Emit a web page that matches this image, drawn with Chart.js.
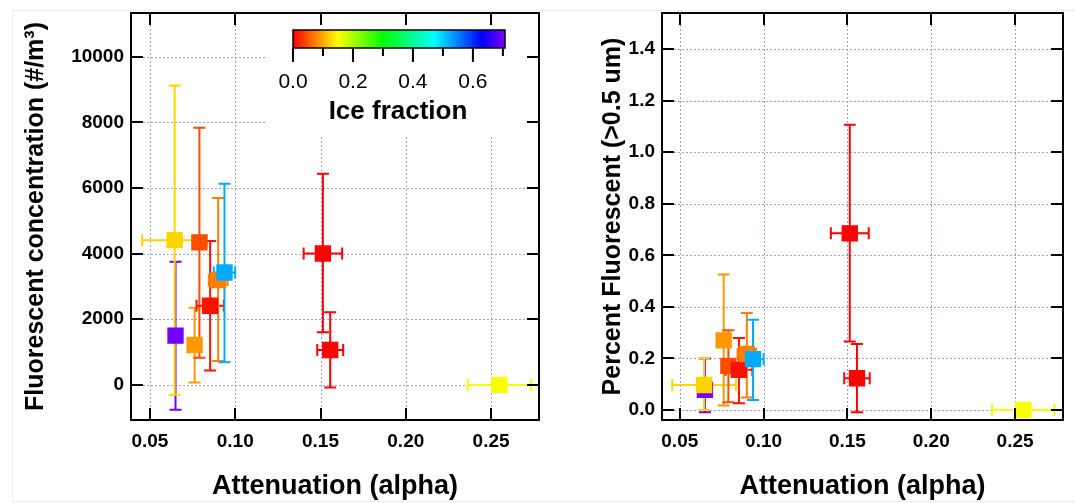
<!DOCTYPE html>
<html>
<head>
<meta charset="utf-8">
<script src="https://cdn.jsdelivr.net/npm/chart.js@4.4.1/dist/chart.umd.min.js"></script>
<style>
  html, body { margin: 0; padding: 0; background: #fff; }
  #wrap { position: relative; width: 1075px; height: 503px; overflow: hidden; }
  #edge { position: absolute; left: 12px; top: 10px; width: 1100px; height: 490px; border: 1px solid #ededed; }
  #left { position: absolute; left: 0; top: 0; }
  #right { position: absolute; left: 560px; top: 0; }
</style>
</head>
<body>
<div id="wrap">
  <div id="edge"></div>
  <canvas id="left" width="560" height="503"></canvas>
  <canvas id="right" width="515" height="503"></canvas>
</div>
<script>
// one entry per sample (drawing order: later ones sit on top)
const attenuation    = [0.0650, 0.0645, 0.0762, 0.0790, 0.0853, 0.0900, 0.0937, 0.1514, 0.1557, 0.2549];
const attenuationErr = [0.0020, 0.0190, 0.0030, 0.0030, 0.0080, 0.0055, 0.0063, 0.0113, 0.0076, 0.0186];
const iceFraction    = [0.700, 0.125, 0.090, 0.045, 0.010, 0.075, 0.523, 0.000, 0.000, 0.155];

const concentration     = [1500, 4410, 1216, 4340, 2410, 3190, 3425, 4003, 1064, 0];
const concentrationLow  = [-760, -304,   70,  830,  435,  730,  690, 1602,  -82, 0];
const concentrationHigh = [3748, 9118, 2350, 7833, 4386, 5693, 6131, 6435, 2210, 0];

const percentFluor     = [0.078, 0.097, 0.270, 0.171, 0.156, 0.217, 0.197, 0.685, 0.123, 0.000];
const percentFluorLow  = [-0.009, 0.000, 0.017, 0.030, 0.026, 0.048, 0.039, 0.266, -0.009, 0.000];
const percentFluorHigh = [0.200, 0.201, 0.525, 0.309, 0.279, 0.376, 0.350, 1.106, 0.256, 0.000];

const xTicks       = [0.05, 0.10, 0.15, 0.20, 0.25];
const concTicks    = [0, 2000, 4000, 6000, 8000, 10000];
const percentTicks = [0, 0.2, 0.4, 0.6, 0.8, 1.0, 1.2, 1.4];
const iceTicks     = [0.0, 0.2, 0.4, 0.6];
const iceMax = 0.707;

// rainbow colour map used for the ice fraction
const cmapStops = [
  [0.00, [255, 0, 0]],
  [0.15, [255, 255, 0]],
  [0.30, [0, 255, 0]],
  [0.47, [0, 255, 255]],
  [0.63, [0, 0, 255]],
  [0.707, [128, 0, 255]]
];
function iceColor(v) {
  for (let i = 1; i < cmapStops.length; i++) {
    const [v1, c1] = cmapStops[i];
    const [v0, c0] = cmapStops[i - 1];
    if (v <= v1) {
      const t = (v - v0) / (v1 - v0);
      const c = c0.map((c, k) => Math.round(c + (c1[k] - c) * t));
      return `rgb(${c[0]},${c[1]},${c[2]})`;
    }
  }
  return 'rgb(128,0,255)';
}
const pointColors = iceFraction.map(iceColor);

Chart.defaults.font.family = '"Liberation Sans", Arial, sans-serif';
Chart.defaults.color = '#000';

// grid, error bars, frame with inside ticks, optional colour bar
function makeOverlay(yLow, yHigh, withColorbar) {
  return {
    id: 'overlay',
    beforeDatasetsDraw(chart) {
      const { ctx, chartArea: a, scales: { x, y } } = chart;
      ctx.save();
      ctx.strokeStyle = '#9c9ce2';
      ctx.lineWidth = 1;
      ctx.setLineDash([2, 2]);
      ctx.beginPath();
      x.ticks.forEach(t => {
        const px = Math.round(x.getPixelForValue(t.value)) + 0.5;
        ctx.moveTo(px, a.top); ctx.lineTo(px, a.bottom);
      });
      y.ticks.forEach(t => {
        const py = Math.round(y.getPixelForValue(t.value)) + 0.5;
        ctx.moveTo(a.left, py); ctx.lineTo(a.right, py);
      });
      ctx.stroke();
      ctx.setLineDash([]);

      if (withColorbar) {
        ctx.fillStyle = '#fff';
        ctx.fillRect(265, a.top, a.right - 265, 122);
      }

      ctx.lineWidth = 2;
      const cap = 6;
      attenuation.forEach((xv, i) => {
        ctx.strokeStyle = pointColors[i];
        const px = x.getPixelForValue(xv);
        const py = y.getPixelForValue(chart.data.datasets[0].data[i].y);
        ctx.beginPath();
        if (yHigh[i] !== yLow[i]) {
          const top = y.getPixelForValue(yHigh[i]);
          const bot = y.getPixelForValue(yLow[i]);
          ctx.moveTo(px, top); ctx.lineTo(px, bot);
          ctx.moveTo(px - cap, top); ctx.lineTo(px + cap, top);
          ctx.moveTo(px - cap, bot); ctx.lineTo(px + cap, bot);
        }
        const l = x.getPixelForValue(xv - attenuationErr[i]);
        const r = x.getPixelForValue(xv + attenuationErr[i]);
        ctx.moveTo(l, py); ctx.lineTo(r, py);
        ctx.moveTo(l, py - cap); ctx.lineTo(l, py + cap);
        ctx.moveTo(r, py - cap); ctx.lineTo(r, py + cap);
        ctx.stroke();
      });
      ctx.restore();
    },
    afterDraw(chart) {
      const { ctx, chartArea: a, scales: { x, y } } = chart;
      ctx.save();
      ctx.strokeStyle = '#000';
      ctx.lineWidth = 2;
      ctx.strokeRect(a.left, a.top, a.right - a.left, a.bottom - a.top);
      const tl = 12;
      ctx.beginPath();
      x.ticks.forEach(t => {
        const px = Math.round(x.getPixelForValue(t.value));
        ctx.moveTo(px, a.bottom); ctx.lineTo(px, a.bottom - tl);
        ctx.moveTo(px, a.top); ctx.lineTo(px, a.top + tl);
      });
      y.ticks.forEach(t => {
        const py = Math.round(y.getPixelForValue(t.value));
        ctx.moveTo(a.left, py); ctx.lineTo(a.left + tl, py);
        ctx.moveTo(a.right, py); ctx.lineTo(a.right - tl, py);
      });
      ctx.stroke();

      if (withColorbar) {
        const bx = 293, by = 30, bw = 212, bh = 18;
        const g = ctx.createLinearGradient(bx, 0, bx + bw, 0);
        cmapStops.forEach(([v, c]) => g.addColorStop(Math.min(v / iceMax, 1), `rgb(${c[0]},${c[1]},${c[2]})`));
        ctx.fillStyle = g;
        ctx.fillRect(bx, by, bw, bh);
        ctx.lineWidth = 1.5;
        ctx.strokeRect(bx, by, bw, bh);
        ctx.lineWidth = 2;
        ctx.beginPath();
        for (let k = 0; k <= 7; k++) {
          const tx = bx + (k * 0.1) / iceMax * bw;
          ctx.moveTo(tx, by + bh);
          ctx.lineTo(tx, by + bh + (k % 2 === 0 ? 14 : 8));
        }
        ctx.stroke();
        ctx.fillStyle = '#000';
        ctx.textAlign = 'center';
        ctx.textBaseline = 'middle';
        ctx.font = '21px "Liberation Sans", Arial, sans-serif';
        iceTicks.forEach(v => ctx.fillText(v.toFixed(1), bx + v / iceMax * bw, 82));
        ctx.font = 'bold 26px "Liberation Sans", Arial, sans-serif';
        ctx.fillText('Ice fraction', 398, 112);
      }
      ctx.restore();
    }
  };
}

function makeChart(id, yValues, yLow, yHigh, opt) {
  const tickFont = { size: 19, weight: 'bold' };
  return new Chart(document.getElementById(id), {
    type: 'scatter',
    data: {
      datasets: [{
        data: attenuation.map((v, i) => ({ x: v, y: yValues[i] })),
        pointStyle: 'rect',
        pointRadius: 10.5,
        pointBorderWidth: 1.5,
        pointBackgroundColor: pointColors,
        pointBorderColor: pointColors
      }]
    },
    options: {
      responsive: false,
      animation: false,
      layout: { padding: { top: 13, left: 0, bottom: 0, right: opt.padRight } },
      plugins: { legend: { display: false }, tooltip: { enabled: false } },
      scales: {
        x: {
          type: 'linear',
          min: opt.xMin, max: opt.xMax,
          afterBuildTicks: s => { s.ticks = xTicks.map(v => ({ value: v })); },
          afterFit: s => { s.height = 83; s.paddingLeft = 0; s.paddingRight = 0; },
          grid: { display: false, drawTicks: false },
          border: { display: false },
          ticks: { font: tickFont, padding: 10, maxRotation: 0, autoSkip: false, callback: v => v.toFixed(2) },
          title: { display: true, text: 'Attenuation (alpha)', font: { size: 27, weight: 'bold' }, padding: { top: 0, bottom: 0 } }
        },
        y: {
          type: 'linear',
          min: opt.yMin, max: opt.yMax,
          afterBuildTicks: s => { s.ticks = opt.yTicks.map(v => ({ value: v })); },
          afterFit: s => { s.width = opt.yWidth; s.paddingTop = 0; s.paddingBottom = 0; },
          grid: { display: false, drawTicks: false },
          border: { display: false },
          ticks: { font: tickFont, padding: 7, autoSkip: false, callback: opt.yFormat },
          title: { display: true, text: opt.yTitle, font: { size: 25, weight: 'bold' }, padding: { top: opt.titlePad, bottom: 0 } }
        }
      }
    },
    plugins: [makeOverlay(yLow, yHigh, opt.colorbar)]
  });
}

makeChart('left', concentration, concentrationLow, concentrationHigh, {
  xMin: 0.0389, xMax: 0.2781, yMin: -1070, yMax: 11330,
  yTicks: concTicks, yFormat: v => String(v), yWidth: 131, padRight: 21,
  yTitle: 'Fluorescent concentration (#/m³)', titlePad: 21, colorbar: true
});

makeChart('right', percentFluor, percentFluorLow, percentFluorHigh, {
  xMin: 0.0394, xMax: 0.2786, yMin: -0.0388, yMax: 1.5396,
  yTicks: percentTicks, yFormat: v => v.toFixed(1), yWidth: 102, padRight: 6,
  yTitle: 'Percent Fluorescent (>0.5 um)', titlePad: 38, colorbar: false
});
</script>
</body>
</html>
